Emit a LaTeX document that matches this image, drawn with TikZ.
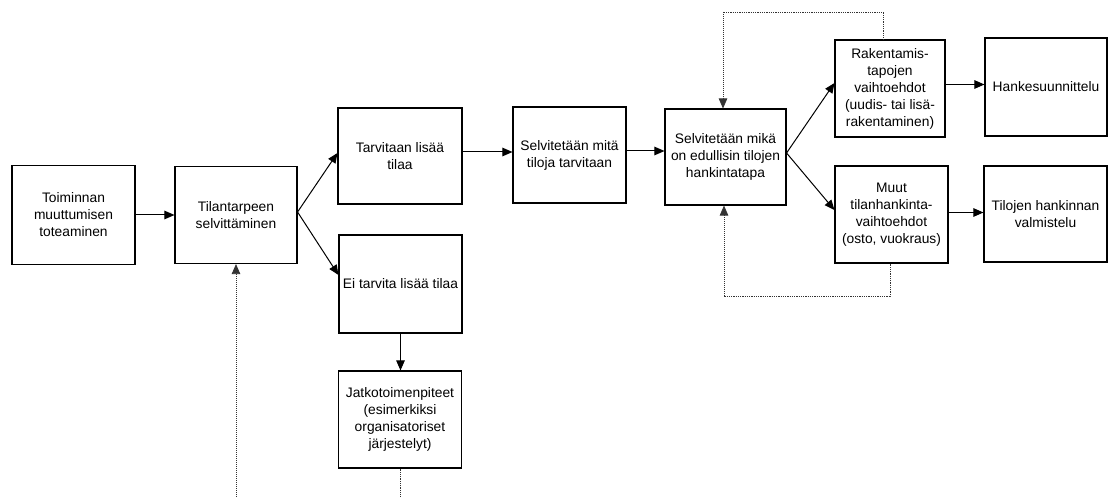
\documentclass[tikz,border=0pt]{standalone}
\usepackage{fontspec}
\setmainfont{Liberation Sans}
\usetikzlibrary{arrows.meta,calc}
\begin{document}
\begin{tikzpicture}[x=1pt,y=-1pt,
  box/.style={draw,line width=1.1pt,align=center,inner sep=0pt,
    font=\fontsize{13.8}{17}\selectfont},
  arr/.style={line width=1pt,-{Triangle[length=10pt,width=8.5pt]}},
  dotline/.style={line width=0.8pt,densely dotted,draw=black!80}]
\useasboundingbox (0,0) rectangle (1108,497);
\node[box,minimum width=123pt,minimum height=99pt] (b1) at (73.5,215) {Toiminnan\\muuttumisen\\toteaminen};
\node[box,minimum width=122pt,minimum height=97pt] (b2) at (236,215) {Tilantarpeen\\selvittäminen};
\node[box,minimum width=124pt,minimum height=96pt] (b3) at (400,156) {Tarvitaan lisää\\tilaa};
\node[box,minimum width=113pt,minimum height=96pt] (b4) at (569.5,155) {Selvitetään mitä\\tiloja tarvitaan};
\node[box,minimum width=121pt,minimum height=96pt] (b5) at (725.5,157) {Selvitetään mikä\\on edullisin tilojen\\hankintatapa};
\node[box,minimum width=110pt,minimum height=97pt] (b6) at (890,88.5) {Rakentamis-\\tapojen\\vaihtoehdot\\(uudis- tai lisä-\\rakentaminen)};
\node[box,minimum width=122pt,minimum height=98pt] (b7) at (1046,87) {Hankesuunnittelu};
\node[box,minimum width=113pt,minimum height=97pt] (b8) at (891.5,214.5) {Muut\\tilanhankinta-\\vaihtoehdot\\(osto, vuokraus)};
\node[box,minimum width=123pt,minimum height=96pt] (b9) at (1045.5,214) {Tilojen hankinnan\\valmistelu};
\node[box,minimum width=123pt,minimum height=98pt] (b10) at (400.5,284) {Ei tarvita lisää tilaa};
\node[box,minimum width=123pt,minimum height=97pt] (b11) at (400,419.5) {Jatkotoimenpiteet\\(esimerkiksi\\organisatoriset\\järjestelyt)};
\coordinate (tl) at (723,12);
\coordinate (bl) at (724,296);
\coordinate (jb) at (400,497);
\coordinate (ab) at (236,497);
% solid arrows
\draw[arr] (b1.east) -- (b2.west);
\draw[arr] ([yshift=3pt]b2.east) -- ([yshift=3pt]b3.west);
\draw[arr] ([yshift=3pt]b2.east) -- ([yshift=9pt]b10.west);
\draw[arr] ([yshift=4pt]b3.east) -- ([yshift=4pt]b3.east -| b4.west);
\draw[arr] ([yshift=4pt]b4.east) -- ([yshift=4pt]b4.east -| b5.west);
\draw[arr] ([yshift=4pt]b5.east) -- ([yshift=5.5pt]b6.west);
\draw[arr] ([yshift=4pt]b5.east) -- ([yshift=4.5pt]b8.west);
\draw[arr] ([yshift=4pt]b6.east) -- ([yshift=4pt]b6.east -| b7.west);
\draw[arr] ([yshift=2pt]b8.east) -- ([yshift=2pt]b8.east -| b9.west);
\draw[arr] (b10.south) -- (b10.south |- b11.north);
% dotted feedback lines
\draw[dotline] ([xshift=-7pt]b6.north) |- (tl);
\draw[dotline,arr,densely dotted,line width=0.8pt] (tl) -- (tl |- b5.north);
\draw[dotline] ([xshift=-1.5pt]b8.south) |- (bl);
\draw[dotline,arr,densely dotted,line width=0.8pt] (bl) -- (bl |- b5.south);
\draw[dotline] (b11.south) -- (jb);
\draw[dotline,arr,densely dotted,line width=0.8pt] (ab) -- (b2.south);
\end{tikzpicture}
\end{document}
